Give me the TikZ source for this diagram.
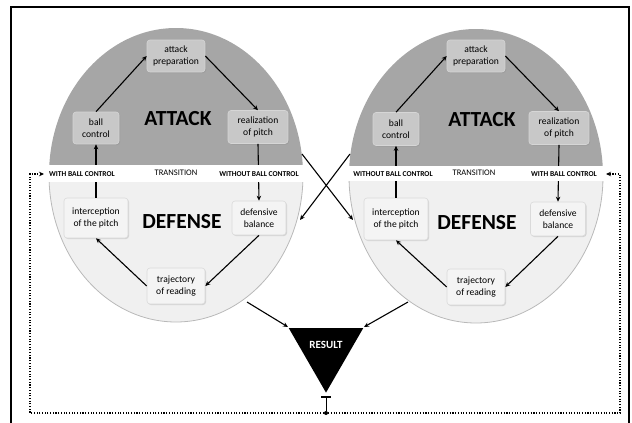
\documentclass[tikz,border=0pt]{standalone}
\usepackage{fontspec}
\setmainfont{Carlito}
\usetikzlibrary{arrows.meta,shadows,shapes.geometric}
\definecolor{atkbg}{RGB}{166,166,166}
\definecolor{atkbox}{RGB}{200,200,200}
\definecolor{atkboxline}{RGB}{214,214,214}
\definecolor{defbg}{RGB}{240,240,240}
\definecolor{defline}{RGB}{185,185,185}
\definecolor{defbox}{RGB}{244,244,244}
\definecolor{defboxline}{RGB}{218,218,218}
\begin{document}
\begin{tikzpicture}[x=1pt,y=-1pt,
  box/.style={rounded corners=3pt, align=center, inner sep=0pt,
    font=\fontsize{9.6}{12.5}\selectfont,
    drop shadow={opacity=0.25,shadow xshift=1pt,shadow yshift=-1pt}},
  abox/.style={box, fill=atkbox, draw=atkboxline, line width=0.6pt},
  dbox/.style={box, fill=defbox, draw=defboxline, line width=0.6pt},
  flow/.style={line width=1.1pt, -{Stealth[length=5pt,width=4.5pt]}},
  bigtxt/.style={font=\fontsize{21.5}{24}\bfseries\selectfont, inner sep=0pt},
  trans/.style={font=\fontsize{7.5}{8}\bfseries\selectfont, inner sep=0pt},
  transmid/.style={font=\fontsize{8.5}{9}\selectfont, inner sep=0pt},
  fbline/.style={line width=1.2pt, dash pattern=on 1.1pt off 1.6pt},
]
\useasboundingbox (0,0) rectangle (632,423);
% outer frame
\draw[line width=1.8pt] (11,431) -- (11,7) -- (629,7) -- (629,431);

% ---------- circles ----------
\begin{scope}
  \clip (40,0) rectangle (315,165);
  \fill[atkbg] (176,175) ellipse [x radius=127pt, y radius=147pt];
\end{scope}
\begin{scope}
  \clip (40,181.5) rectangle (315,335);
  \filldraw[fill=defbg, draw=defline, line width=0.8pt] (176,175) ellipse [x radius=127pt, y radius=147pt];
\end{scope}
\begin{scope}
  \clip (340,0) rectangle (615,166);
  \fill[atkbg] (476,176) ellipse [x radius=127pt, y radius=147pt];
\end{scope}
\begin{scope}
  \clip (340,181) rectangle (615,335);
  \filldraw[fill=defbg, draw=defline, line width=0.8pt] (476,176) ellipse [x radius=127pt, y radius=147pt];
\end{scope}

% ---------- left boxes ----------
\node[abox, minimum width=58pt, minimum height=32pt] (apL) at (176,56) {attack\\preparation};
\node[abox, minimum width=46pt, minimum height=32pt] (bcL) at (96,128) {ball\\control};
\node[abox, minimum width=60pt, minimum height=33pt] (rpL) at (258,127) {realization\\of pitch};
\node[dbox, minimum width=64pt, minimum height=40pt] (ipL) at (96,218) {interception\\of the pitch};
\node[dbox, minimum width=54pt, minimum height=34pt] (dbL) at (259,218) {defensive\\balance};
\node[dbox, minimum width=58pt, minimum height=36pt] (trL) at (176,286) {trajectory\\of reading};
\node[bigtxt] (atkL) at (178,119) {ATTACK};
\node[bigtxt] (defL) at (182,222) {DEFENSE};

% ---------- right boxes ----------
\node[abox, minimum width=58pt, minimum height=32pt] (apR) at (476,56) {attack\\preparation};
\node[abox, minimum width=46pt, minimum height=33pt] (bcR) at (396,129) {ball\\control};
\node[abox, minimum width=60pt, minimum height=33pt] (rpR) at (559,128) {realization\\of pitch};
\node[dbox, minimum width=64pt, minimum height=42pt] (ipR) at (396,219) {interception\\of the pitch};
\node[dbox, minimum width=55pt, minimum height=34pt] (dbR) at (558,219) {defensive\\balance};
\node[dbox, minimum width=58pt, minimum height=36pt] (trR) at (476,287) {trajectory\\of reading};
\node[bigtxt] (atkR) at (482,120) {ATTACK};
\node[bigtxt] (defR) at (477,223) {DEFENSE};

% ---------- cycle arrows ----------
\foreach \s in {L,R}{
  \draw[flow] (bc\s.north) -- (ap\s.west);
  \draw[flow] (ap\s.east) -- (rp\s.north);
  \draw[flow] (rp\s.south) -- (db\s.north);
  \draw[flow] (db\s.south) -- (tr\s.east);
  \draw[flow] (tr\s.west) -- (ip\s.south);
  \draw[flow] (ip\s.north) -- (bc\s.south);
}

% ---------- transition bands ----------
\fill[white] (45,165) rectangle (307,181.5);
\fill[white] (345,166) rectangle (607,181);
\node[trans] (wbcL) at (82,174) {WITH BALL CONTROL};
\node[transmid] (trnL) at (176,173) {TRANSITION};
\node[trans] (wobL) at (259,174) {WITHOUT BALL CONTROL};
\node[trans] (wobR) at (393,174) {WITHOUT BALL CONTROL};
\node[transmid] (trnR) at (474,173) {TRANSITION};
\node[trans] (wbcR) at (564,174) {WITH BALL CONTROL};

% ---------- crossing arrows ----------
\coordinate (xL1) at (302,154);
\coordinate (xR1) at (353,220);
\coordinate (xR2) at (350,154);
\coordinate (xL2) at (300,220);
\draw[flow] (xL1) -- (xR1);
\draw[flow] (xR2) -- (xL2);

% ---------- result ----------
\node[regular polygon, regular polygon sides=3, shape border rotate=180,
      fill=black, minimum size=86pt, inner sep=0pt] (res) at (326,349.6) {};
\node[font=\fontsize{11}{12}\bfseries\selectfont, text=white, inner sep=0pt] (restxt) at (326,345) {RESULT};
\coordinate (dL) at (247,302);
\coordinate (resL) at (288,327);
\coordinate (dR) at (408,302);
\coordinate (resR) at (364,327);
\draw[flow] (dL) -- (resL);
\draw[flow] (dR) -- (resR);

% ---------- feedback loop ----------
\node[circle, fill=black, inner sep=0pt, minimum size=4pt] (dot) at (326,413) {};
\coordinate (tee) at (326,396);
\draw[line width=1pt, -{Bar[width=10pt,line width=2pt]}] (dot) -- (tee);
\coordinate (fbL) at (44,174);
\coordinate (fbR) at (606,174);
\draw[fbline, -{Stealth[length=5pt,width=4.5pt]}] (dot) -- (30,413) |- (fbL);
\draw[fbline, -{Stealth[length=5pt,width=4.5pt]}] (dot) -- (620,413) |- (fbR);
\end{tikzpicture}
\end{document}
